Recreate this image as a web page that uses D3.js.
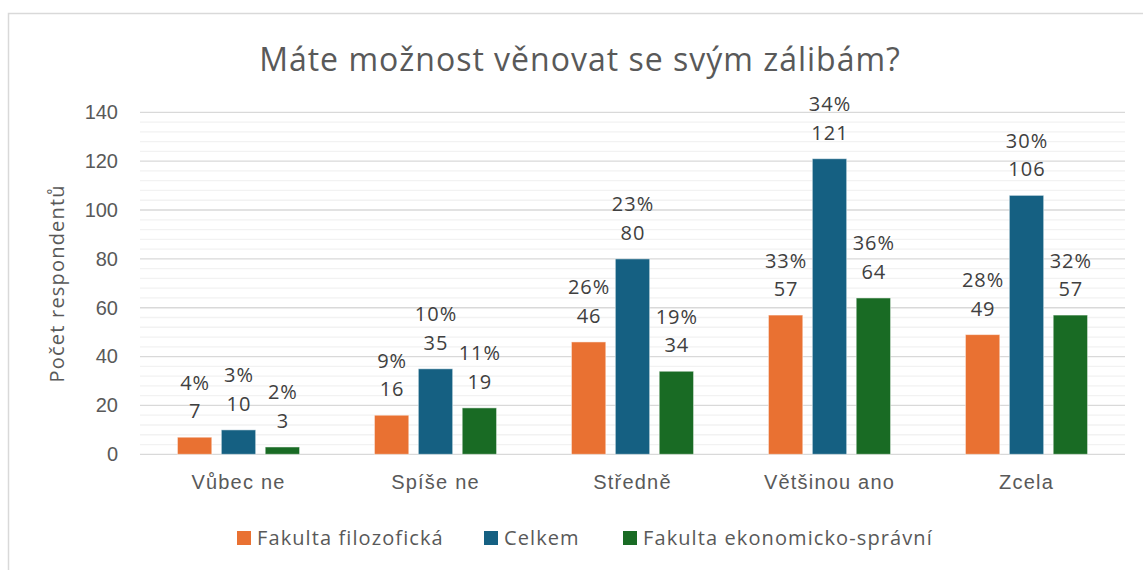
<!DOCTYPE html>
<html>
<head>
<meta charset="utf-8">
<script src="https://cdn.jsdelivr.net/npm/d3@7"></script>
<style>
    body { margin: 0; background: #fff; }
    svg { display: block; font-family: 'Open Sans', 'Noto Sans', sans-serif; }
</style>
</head>
<body>
<div id="chart"></div>
<script>
const categories = ['Vůbec ne', 'Spíše ne', 'Středně', 'Většinou ano', 'Zcela'];
const seriesNames = ['Fakulta filozofická', 'Celkem', 'Fakulta ekonomicko-správní'];
const seriesColors = ['#E97132', '#156082', '#196B24'];
const valuesFF = [7, 16, 46, 57, 49];
const valuesCelkem = [10, 35, 80, 121, 106];
const valuesFES = [3, 19, 34, 64, 57];
const pctFF = ['4%', '9%', '26%', '33%', '28%'];
const pctCelkem = ['3%', '10%', '23%', '34%', '30%'];
const pctFES = ['2%', '11%', '19%', '36%', '32%'];
const yTicks = [0, 20, 40, 60, 80, 100, 120, 140];

const W = 1143, H = 570;
const margin = {top: 112.3, right: 18, bottom: 115.7, left: 140};
const width = W - margin.left - margin.right;
const height = H - margin.top - margin.bottom;
const labelSize = '20px';

const svg = d3.select('#chart').append('svg')
    .attr('width', W)
    .attr('height', H);

// chart frame
svg.append('rect')
    .attr('x', 8.5).attr('y', 13.5)
    .attr('width', W).attr('height', H)
    .attr('fill', 'none')
    .attr('stroke', '#d9d9d9')
    .attr('stroke-width', 1.5);

svg.append('text')
    .attr('x', 580).attr('y', 71)
    .attr('text-anchor', 'middle')
    .attr('fill', '#595959')
    .style('font-size', '32px')
    .style('letter-spacing', '1px')
    .text('Máte možnost věnovat se svým zálibám?');

const g = svg.append('g')
    .attr('transform', `translate(${margin.left}, ${margin.top})`);

const x0 = d3.scaleBand()
    .domain(categories)
    .range([0, width])
    .paddingInner(0.38)
    .paddingOuter(0.19);
const x1 = d3.scaleBand()
    .domain(seriesNames)
    .range([0, x0.bandwidth()])
    .paddingInner(0.217);
const y = d3.scaleLinear()
    .domain([0, 140])
    .range([height, 0]);

// minor gridlines
g.append('g')
    .selectAll('line')
    .data(d3.range(4, 140, 4).filter(v => v % 20 !== 0))
    .enter().append('line')
    .attr('x1', 0).attr('x2', width)
    .attr('y1', d => y(d)).attr('y2', d => y(d))
    .attr('stroke', '#f2f2f2')
    .attr('stroke-width', 1.3);

// major gridlines
g.append('g')
    .selectAll('line')
    .data(yTicks)
    .enter().append('line')
    .attr('x1', 0).attr('x2', width)
    .attr('y1', d => y(d)).attr('y2', d => y(d))
    .attr('stroke', '#d9d9d9')
    .attr('stroke-width', 1.3);

const yAxis = g.append('g')
    .call(d3.axisLeft(y).tickValues(yTicks).tickSize(0).tickPadding(22));
yAxis.select('.domain').remove();
yAxis.selectAll('text')
    .attr('fill', '#595959')
    .style('font-size', labelSize);

const xAxis = g.append('g')
    .attr('transform', `translate(0, ${height})`)
    .call(d3.axisBottom(x0).tickSize(0).tickPadding(21));
xAxis.select('.domain').remove();
xAxis.selectAll('text')
    .attr('fill', '#595959')
    .style('font-size', labelSize)
    .style('letter-spacing', '1.2px');

svg.append('text')
    .attr('transform', `translate(64, ${margin.top + height / 2}) rotate(-90)`)
    .attr('text-anchor', 'middle')
    .attr('fill', '#595959')
    .style('font-size', '20px')
    .style('letter-spacing', '1.2px')
    .text('Počet respondentů');

const seriesData = [
    {name: seriesNames[0], values: valuesFF, pct: pctFF, color: seriesColors[0]},
    {name: seriesNames[1], values: valuesCelkem, pct: pctCelkem, color: seriesColors[1]},
    {name: seriesNames[2], values: valuesFES, pct: pctFES, color: seriesColors[2]}
];

const groups = g.selectAll('.series')
    .data(seriesData)
    .enter().append('g')
    .attr('class', 'series');

groups.selectAll('rect')
    .data(s => s.values.map((v, i) => ({s: s, cat: categories[i], v: v})))
    .enter().append('rect')
    .attr('x', d => x0(d.cat) + x1(d.s.name))
    .attr('y', d => y(d.v))
    .attr('width', x1.bandwidth())
    .attr('height', d => height - y(d.v))
    .attr('fill', d => d.s.color)
    .attr('stroke', '#ffffff')
    .attr('stroke-opacity', 0.5)
    .attr('stroke-width', 1);

// data labels: value and percentage
groups.selectAll('text.val')
    .data(s => s.values.map((v, i) => ({s: s, cat: categories[i], v: v, p: s.pct[i]})))
    .enter().append('text')
    .attr('class', 'val')
    .attr('x', d => x0(d.cat) + x1(d.s.name) + x1.bandwidth() / 2 + 0.5)
    .attr('y', d => y(d.v) - 19)
    .attr('text-anchor', 'middle')
    .attr('fill', '#404040')
    .style('font-size', labelSize)
    .style('letter-spacing', '1px')
    .text(d => d.v);

groups.selectAll('text.pct')
    .data(s => s.values.map((v, i) => ({s: s, cat: categories[i], v: v, p: s.pct[i]})))
    .enter().append('text')
    .attr('class', 'pct')
    .attr('x', d => x0(d.cat) + x1(d.s.name) + x1.bandwidth() / 2 + 0.5)
    .attr('y', d => y(d.v) - 47.5)
    .attr('text-anchor', 'middle')
    .attr('fill', '#404040')
    .style('font-size', labelSize)
    .style('letter-spacing', '1px')
    .text(d => d.p);

// legend
const legendX = [237, 484, 623];
const legend = svg.append('g');
seriesData.forEach((s, i) => {
    legend.append('rect')
        .attr('x', legendX[i]).attr('y', 531)
        .attr('width', 14).attr('height', 14)
        .attr('fill', s.color);
    legend.append('text')
        .attr('x', legendX[i] + 20).attr('y', 545)
        .attr('fill', '#595959')
        .style('font-size', labelSize)
        .style('letter-spacing', '1.1px')
        .text(s.name);
});
</script>
</body>
</html>
